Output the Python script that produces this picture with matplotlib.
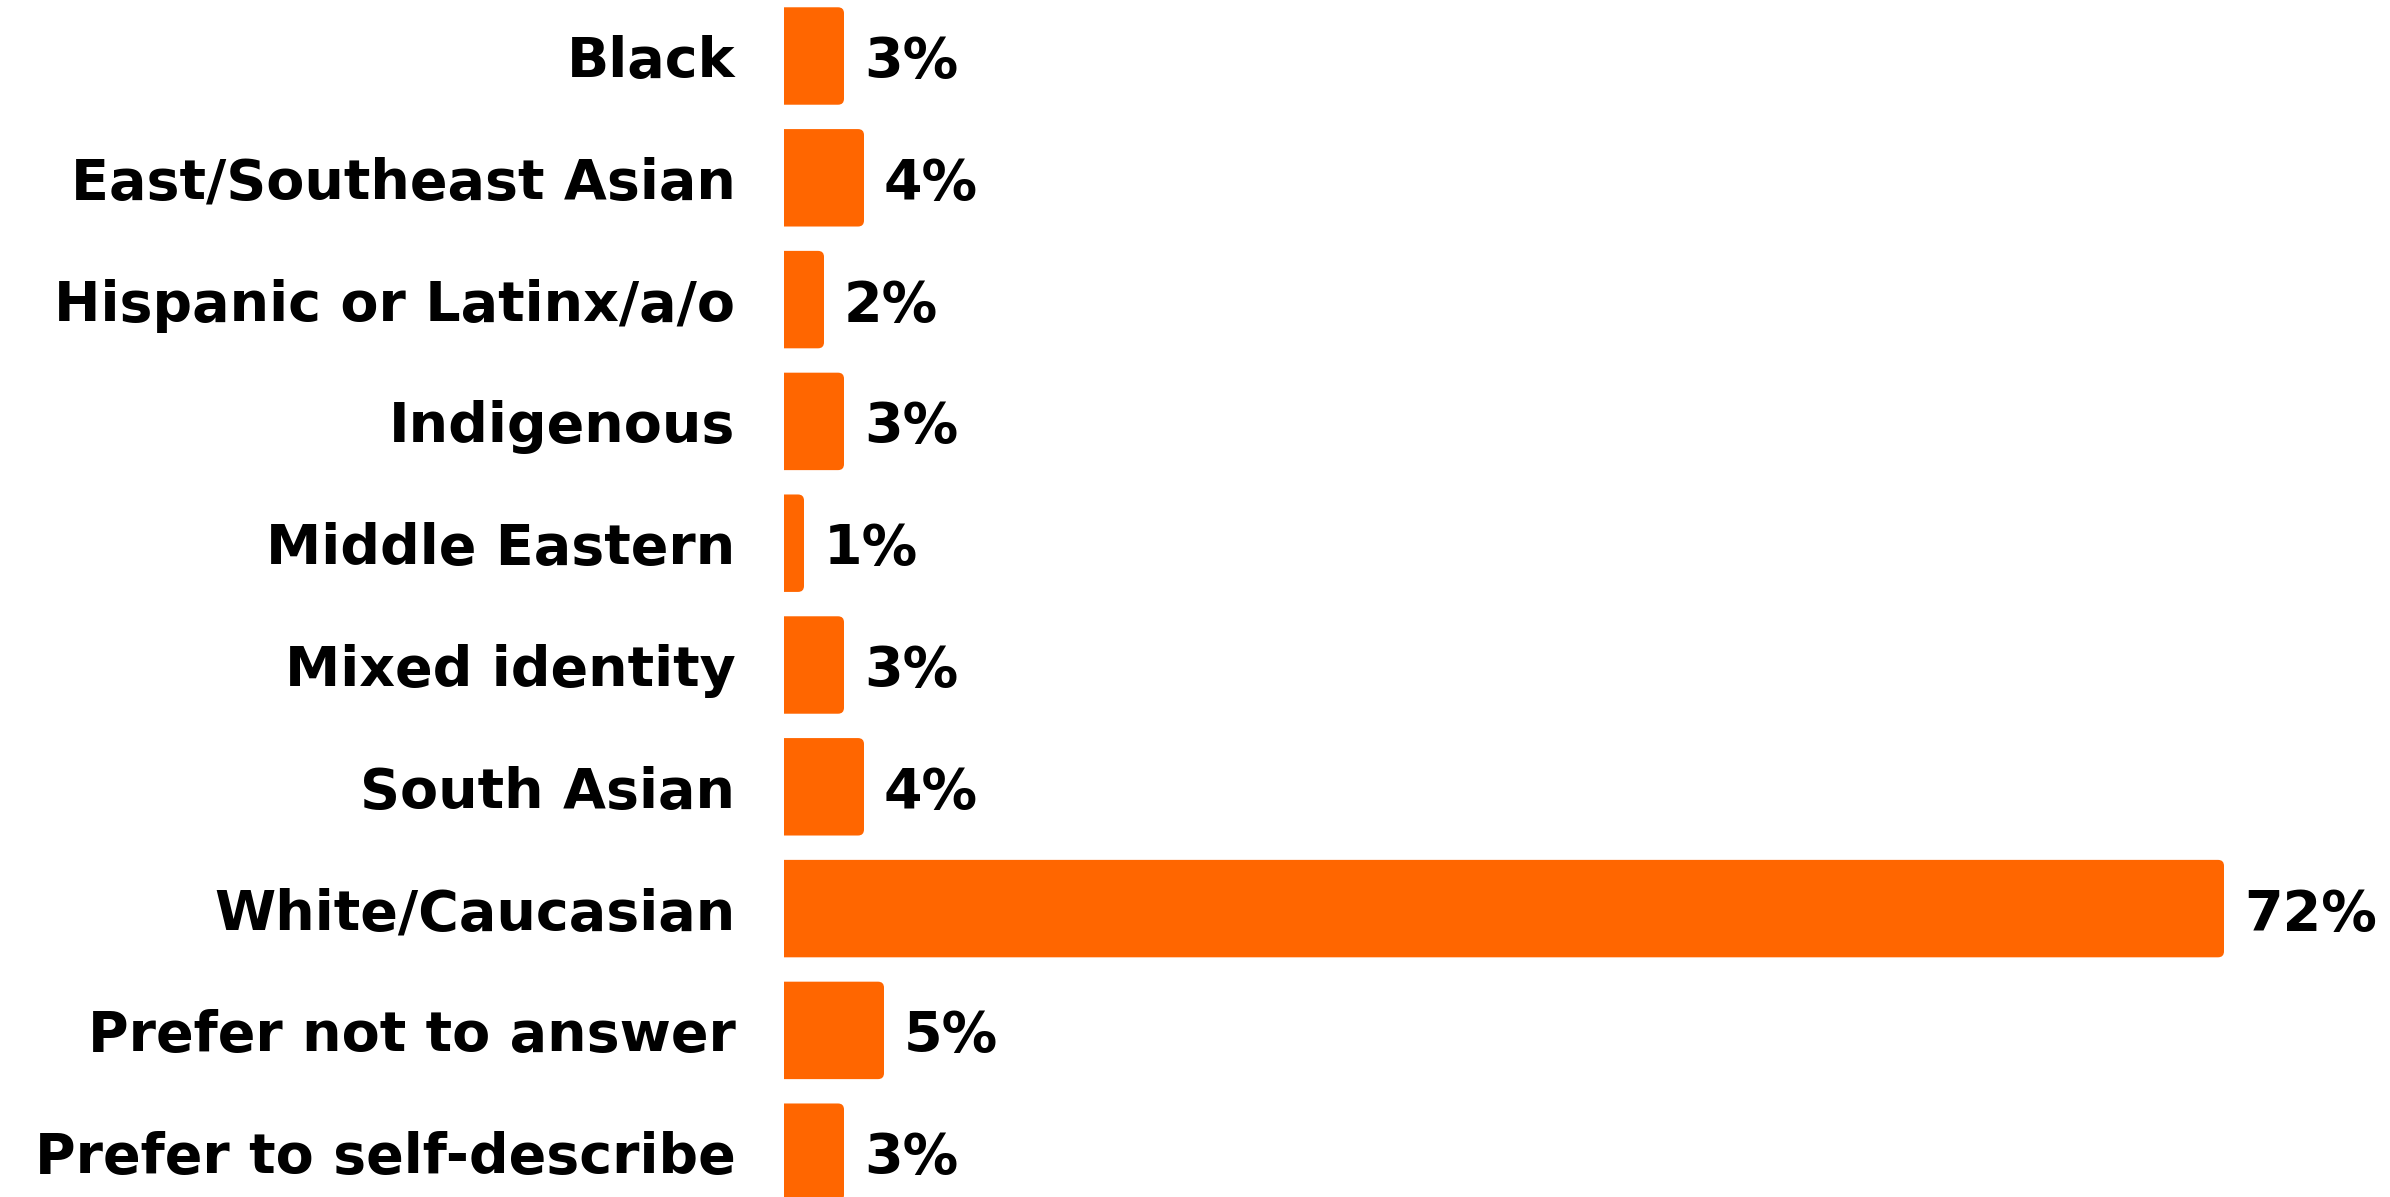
import matplotlib
matplotlib.use("Agg")
import matplotlib.pyplot as plt
from matplotlib.patches import FancyBboxPatch

# survey responses, share of respondents (%)
categories = ["Black", "East/Southeast Asian", "Hispanic or Latinx/a/o", "Indigenous",
              "Middle Eastern", "Mixed identity", "South Asian", "White/Caucasian",
              "Prefer not to answer", "Prefer to self-describe"]
values = [3, 4, 2, 3, 1, 3, 4, 72, 5, 3]
value_labels = ["3%", "4%", "2%", "3%", "1%", "3%", "4%", "72%", "5%", "3%"]

bar_color = "#FF6600"
font = "DejaVu Sans"
fsize = 40

W, H = 2390, 1197
fig = plt.figure(figsize=(W / 100, H / 100), dpi=100)
left_px = 784
ax = fig.add_axes([left_px / W, 0, 1 - left_px / W, 1])

px_per_unit = 20.0
row_px = 121.8
ax.set_xlim(0, (W - left_px) / px_per_unit)
top = -56 / row_px
ax.set_ylim(top + H / row_px, top)

bar_h = 0.8
rx = 0.3
aspect = (6 / row_px) / rx
for i, v in enumerate(values):
    box = FancyBboxPatch((-1, i - bar_h / 2), v + 1, bar_h,
                         boxstyle="round,pad=0,rounding_size=%s" % rx,
                         mutation_aspect=aspect, fc=bar_color, ec="none")
    ax.add_patch(box)
    ax.text(v + 1.0, i, value_labels[i], va="center_baseline", ha="left",
            fontsize=fsize, fontweight="bold", family=font, color="black")

ax.set_yticks(range(len(categories)))
ax.set_yticklabels(categories, fontsize=fsize, fontweight="bold", family=font,
                   va="center_baseline")
ax.tick_params(axis="y", length=0, pad=35)
ax.set_xticks([])
for s in ax.spines.values():
    s.set_visible(False)

fig.savefig("out.png", dpi=100, facecolor="white")
